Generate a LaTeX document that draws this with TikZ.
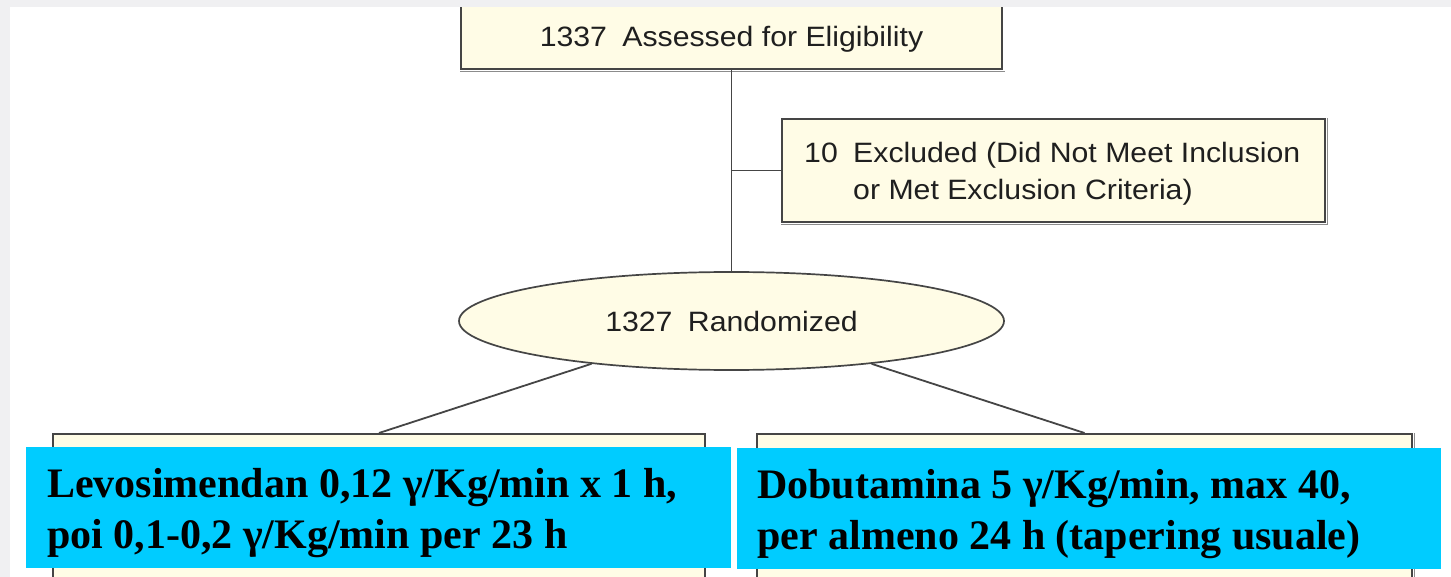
\documentclass[tikz,border=0pt]{standalone}
\usepackage{fontspec}
\usetikzlibrary{shapes.geometric}
\newfontfamily\flowfont{Liberation Sans}[FakeStretch=1.08]
\newfontfamily\armfont{Liberation Serif}
\newcommand\flowgap{\hspace{0.55em}}
\definecolor{cream}{HTML}{FFFCE6}
\definecolor{edge}{HTML}{454545}
\definecolor{armcyan}{HTML}{00CCFF}
\definecolor{framegray}{HTML}{F0F0F2}
\begin{document}
\begin{tikzpicture}[x=1pt,y=-1pt,
  flowbox/.style={rectangle, draw=edge, fill=cream, line width=1.7pt, inner sep=0pt},
  flowtext/.style={font=\flowfont\fontsize{28}{37}\selectfont, text=black!88, inner sep=0pt},
  armbox/.style={rectangle, fill=armcyan, inner sep=0pt},
  armtext/.style={font=\armfont\bfseries\fontsize{42}{51}\selectfont, align=left, inner sep=0pt, anchor=base west},
  link/.style={draw=edge, line width=1.8pt},
  shade line/.style={draw=black!45, line width=1pt}]
\useasboundingbox (0,0) rectangle (1451,577);
\clip (0,0) rectangle (1451,577);
\fill[white] (0,0) rectangle (1451,577);

% top box
\node[flowbox, flowtext, minimum width=541pt, minimum height=64pt,
      text height=20pt, text depth=0pt] (assess) at (731.5,37)
      {1337\flowgap Assessed for Eligibility};
\draw[shade line] ([yshift=-1.8pt]assess.south west) -- ([xshift=1.8pt,yshift=-1.8pt]assess.south east);

% exclusion box
\node[flowbox, minimum width=543pt, minimum height=103pt] (excl) at (1053.5,170.5) {};
\draw[shade line] ([yshift=-1.8pt]excl.south west) -- ([xshift=1.8pt,yshift=-1.8pt]excl.south east)
      -- ([xshift=1.8pt]excl.north east);
% multi-line text: the base anchor sits on the last line
\node[flowtext, anchor=base west, align=left] (excltext) at (804,200)
      {10\flowgap Excluded (Did Not Meet Inclusion\\\phantom{10\flowgap}or Met Exclusion Criteria)};

% randomization
\node[ellipse, draw=edge, fill=cream, line width=1.7pt, flowtext, minimum width=545pt,
      minimum height=98pt, text height=20pt, text depth=0pt] (rand) at (731.5,321)
      {1327\flowgap Randomized};

% arm boxes
\node[flowbox, minimum width=652pt, minimum height=170pt, anchor=north] (levo) at (379,433) {};
\node[flowbox, minimum width=655pt, minimum height=170pt, anchor=north] (dobu) at (1084.5,433) {};
\draw[shade line] ([xshift=1.8pt]dobu.north east) -- ([xshift=1.8pt]dobu.south east);

% connectors
\draw[link] (assess.south) -- (rand.north);
\draw[link] (assess.south |- excl.west) -- (excl.west);
\draw[link] (rand.197) -- (levo.north);
\draw[link] (rand.343) -- (dobu.north);

% treatment labels
\node[armbox, minimum width=705pt, minimum height=121pt] (levobox) at (378.5,507.5) {};
\node[armbox, minimum width=704pt, minimum height=121pt] (dobubox) at (1089,508.5) {};
\node[armtext] (levotext) at (47,548)
      {Levosimendan 0,12 γ/Kg/min x 1 h,\\poi 0,1-0,2 γ/Kg/min per 23 h};
\node[armtext] (dobutext) at (757,549)
      {Dobutamina 5 γ/Kg/min, max 40,\\per almeno 24 h (tapering usuale)};

% outer frame strips
\fill[framegray] (0,0) rectangle (1451,7);
\fill[framegray] (0,0) rectangle (10,577);
\end{tikzpicture}
\end{document}
